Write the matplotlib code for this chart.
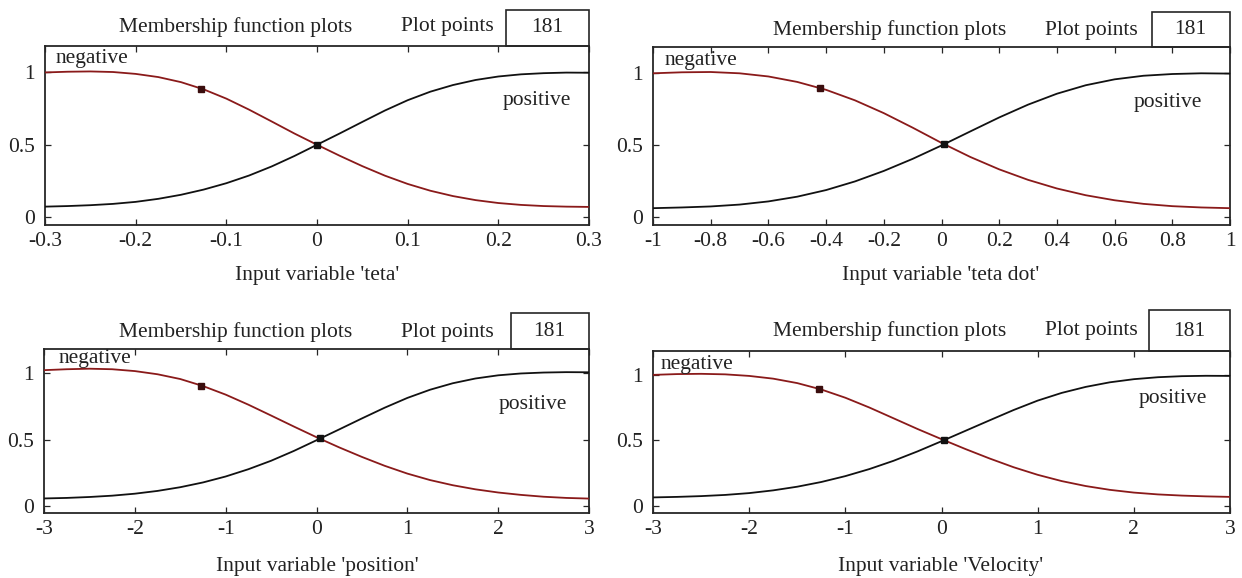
import matplotlib
matplotlib.use("Agg")
import matplotlib.pyplot as plt
from matplotlib.patches import Rectangle

plt.rcParams['font.family'] = ['Liberation Serif', 'DejaVu Serif']
plt.rcParams['axes.unicode_minus'] = False

# ---------------- data ----------------
teta_x = [-0.3, -0.275, -0.25, -0.225, -0.2, -0.175, -0.15, -0.125, -0.1, -0.075, -0.05, -0.025,
          0.0, 0.025, 0.05, 0.075, 0.1, 0.125, 0.15, 0.175, 0.2, 0.225, 0.25, 0.275, 0.3]
teta_neg = [1.000, 1.005, 1.007, 1.003, 0.990, 0.968, 0.933, 0.883, 0.819, 0.743, 0.661, 0.578,
            0.500, 0.424, 0.352, 0.286, 0.229, 0.182, 0.145, 0.117, 0.097, 0.084, 0.076, 0.072, 0.070]
teta_pos = [0.072, 0.076, 0.082, 0.091, 0.105, 0.126, 0.154, 0.190, 0.234, 0.287, 0.350, 0.422,
            0.500, 0.578, 0.658, 0.737, 0.808, 0.867, 0.913, 0.948, 0.972, 0.987, 0.995, 0.999, 0.998]
teta_mx = [-0.128, 0.0]
teta_my = [0.889, 0.5]
teta_ticks = [-0.3, -0.2, -0.1, 0, 0.1, 0.2, 0.3]
teta_ticklabels = ['-0.3', '-0.2', '-0.1', '0', '0.1', '0.2', '0.3']

tetadot_x = [-1.0, -0.9, -0.8, -0.7, -0.6, -0.5, -0.4, -0.3, -0.2, -0.1, 0.0,
             0.1, 0.2, 0.3, 0.4, 0.5, 0.6, 0.7, 0.8, 0.9, 1.0]
tetadot_neg = [1.000, 1.007, 1.009, 1.000, 0.978, 0.940, 0.885, 0.812, 0.723, 0.622, 0.516,
               0.418, 0.332, 0.259, 0.199, 0.152, 0.117, 0.092, 0.076, 0.067, 0.062]
tetadot_pos = [0.062, 0.067, 0.074, 0.087, 0.109, 0.142, 0.188, 0.248, 0.321, 0.405, 0.498,
               0.596, 0.693, 0.782, 0.858, 0.917, 0.958, 0.983, 0.995, 1.000, 0.998]
tetadot_mx = [-0.42, 0.009]
tetadot_my = [0.896, 0.507]
tetadot_ticks = [-1, -0.8, -0.6, -0.4, -0.2, 0, 0.2, 0.4, 0.6, 0.8, 1]
tetadot_ticklabels = ['-1', '-0.8', '-0.6', '-0.4', '-0.2', '0', '0.2', '0.4', '0.6', '0.8', '1']

position_x = [-3.0, -2.75, -2.5, -2.25, -2.0, -1.75, -1.5, -1.25, -1.0, -0.75, -0.5, -0.25,
              0.0, 0.25, 0.5, 0.75, 1.0, 1.25, 1.5, 1.75, 2.0, 2.25, 2.5, 2.75, 3.0]
position_neg = [1.025, 1.032, 1.036, 1.032, 1.018, 0.994, 0.958, 0.905, 0.840, 0.764, 0.682, 0.599,
                0.518, 0.441, 0.369, 0.302, 0.243, 0.194, 0.155, 0.124, 0.100, 0.082, 0.068, 0.059, 0.054]
position_pos = [0.055, 0.059, 0.066, 0.076, 0.091, 0.112, 0.140, 0.176, 0.221, 0.276, 0.340, 0.414,
                0.495, 0.577, 0.660, 0.741, 0.815, 0.877, 0.926, 0.962, 0.986, 1.000, 1.007, 1.010, 1.009]
position_mx = [-1.27, 0.036]
position_my = [0.909, 0.51]

velocity_x = [-3.0, -2.75, -2.5, -2.25, -2.0, -1.75, -1.5, -1.25, -1.0, -0.75, -0.5, -0.25,
              0.0, 0.25, 0.5, 0.75, 1.0, 1.25, 1.5, 1.75, 2.0, 2.25, 2.5, 2.75, 3.0]
velocity_neg = [1.000, 1.006, 1.008, 1.004, 0.992, 0.971, 0.937, 0.888, 0.825, 0.750, 0.668, 0.586,
                0.508, 0.432, 0.360, 0.293, 0.235, 0.187, 0.149, 0.120, 0.099, 0.085, 0.076, 0.070, 0.066]
velocity_pos = [0.062, 0.066, 0.072, 0.081, 0.095, 0.116, 0.144, 0.180, 0.225, 0.279, 0.342, 0.414,
                0.492, 0.572, 0.652, 0.731, 0.803, 0.862, 0.908, 0.943, 0.967, 0.982, 0.990, 0.993, 0.992]
velocity_mx = [-1.27, 0.025]
velocity_my = [0.892, 0.5]

big_ticks = [-3, -2, -1, 0, 1, 2, 3]
big_ticklabels = ['-3', '-2', '-1', '0', '1', '2', '3']

y_ticks = [0, 0.5, 1]
y_ticklabels = ['0', '0.5', '1']

xlabels = ["Input variable 'teta'", "Input variable 'teta dot'",
           "Input variable 'position'", "Input variable 'Velocity'"]
title_text = "Membership function plots"
plot_points_label = "Plot points"
plot_points_value = "181"
mf_names = ["negative", "positive"]

# ---------------- layout (pixels) ----------------
W, H = 1242, 578
fig = plt.figure(figsize=(W / 100, H / 100), dpi=100)

panels = [
    dict(ax=(45, 45.7, 589, 225), box=(506, 9.5, 589, 45.7), title=(236, 27), pp=(447, 27), val=(547, 27),
         xl=(317, 275), neg=(92, 58), pos=(537, 100), x=teta_x, n=teta_neg, p=teta_pos,
         mx=teta_mx, my=teta_my, ticks=teta_ticks, tl=teta_ticklabels, xlim=(-0.3, 0.3)),
    dict(ax=(653, 46.7, 1230, 225), box=(1152, 11.7, 1230, 46.7), title=(890, 30), pp=(1091, 30), val=(1190, 30),
         xl=(941, 275), neg=(701, 61), pos=(1168, 102), x=tetadot_x, n=tetadot_neg, p=tetadot_pos,
         mx=tetadot_mx, my=tetadot_my, ticks=tetadot_ticks, tl=tetadot_ticklabels, xlim=(-1, 1)),
    dict(ax=(44, 349, 589, 513), box=(511, 313, 589, 349), title=(236, 332), pp=(447, 332), val=(549, 332),
         xl=(317, 567), neg=(95, 359), pos=(533, 404), x=position_x, n=position_neg, p=position_pos,
         mx=position_mx, my=position_my, ticks=big_ticks, tl=big_ticklabels, xlim=(-3, 3)),
    dict(ax=(653, 350.7, 1230, 512.7), box=(1149, 310, 1230, 350.7), title=(890, 331), pp=(1091, 331), val=(1189, 331),
         xl=(941, 567), neg=(697, 364), pos=(1173, 399), x=velocity_x, n=velocity_neg, p=velocity_pos,
         mx=velocity_mx, my=velocity_my, ticks=big_ticks, tl=big_ticklabels, xlim=(-3, 3)),
]

FS = 15.5
SPINE = '#262626'
TXT = '#222222'
RED = '#8a1a1a'


def fx(x):
    return x / W


def fy(y):
    return 1 - y / H


for i, pnl in enumerate(panels):
    l, t, r, b = pnl['ax']
    ax = fig.add_axes([fx(l), fy(b), (r - l) / W, (b - t) / H])
    ax.plot(pnl['x'], pnl['p'], color='#111111', lw=1.3, zorder=3, solid_joinstyle='round')
    ax.plot(pnl['x'], pnl['n'], color=RED, lw=1.3, zorder=3, solid_joinstyle='round')
    ax.plot(pnl['mx'][:1], pnl['my'][:1], 's', ms=4, color='#3a0d0d', zorder=4)
    ax.plot(pnl['mx'][1:], pnl['my'][1:], 's', ms=4, color='#111111', zorder=4)
    ax.set_xlim(*pnl['xlim'])
    ax.set_ylim(-0.055, 1.185)
    ax.set_xticks(pnl['ticks'])
    ax.set_xticklabels(pnl['tl'])
    ax.set_yticks(y_ticks)
    ax.set_yticklabels(y_ticklabels)
    ax.tick_params(direction='in', length=4, width=0.9, top=True, right=True,
                   labelsize=FS, colors=SPINE, labelcolor=TXT)
    ax.tick_params(axis='x', pad=5)
    ax.tick_params(axis='y', pad=7)
    for s in ax.spines.values():
        s.set_color(SPINE)
        s.set_linewidth(1.3)

    bl, bt, br, bb = pnl['box']
    fig.add_artist(Rectangle((fx(bl), fy(bb)), (br - bl) / W, (bb - bt) / H,
                             transform=fig.transFigure, fill=False, ec=SPINE, lw=1.2))
    fig.text(fx(pnl['title'][0]), fy(pnl['title'][1]), title_text, ha='center', va='center',
             fontsize=FS, color=TXT)
    fig.text(fx(pnl['pp'][0]), fy(pnl['pp'][1]), plot_points_label, ha='center', va='center',
             fontsize=FS, color=TXT)
    fig.text(fx(pnl['val'][0]), fy(pnl['val'][1]), plot_points_value, ha='center', va='center',
             fontsize=FS, color=TXT)
    fig.text(fx(pnl['xl'][0]), fy(pnl['xl'][1]), xlabels[i], ha='center', va='center',
             fontsize=FS, color=TXT)
    fig.text(fx(pnl['neg'][0]), fy(pnl['neg'][1]), mf_names[0], ha='center', va='center',
             fontsize=FS, color=TXT)
    fig.text(fx(pnl['pos'][0]), fy(pnl['pos'][1]), mf_names[1], ha='center', va='center',
             fontsize=FS, color=TXT)

fig.savefig('out.png', dpi=100)
